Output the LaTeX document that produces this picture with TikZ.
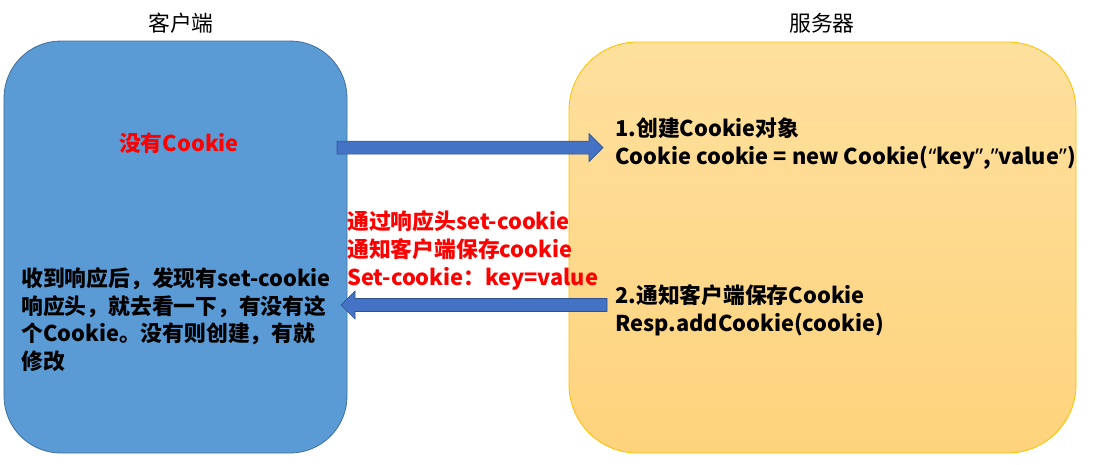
\documentclass[tikz,border=0pt]{standalone}
\usepackage{fontspec}
\setmainfont{Noto Sans CJK SC}
\newfontfamily\quotefont{Noto Sans}
\usetikzlibrary{calc}

\definecolor{clientblue}{HTML}{5B9BD5}
\definecolor{clientedge}{HTML}{41719C}
\definecolor{servertop}{HTML}{FEE09E}
\definecolor{serverbottom}{HTML}{FED37C}
\definecolor{serveredge}{HTML}{FFC000}
\definecolor{arrowblue}{HTML}{4472C4}
\definecolor{arrowedge}{HTML}{2F528F}
\definecolor{cookiered}{HTML}{FF0000}

\tikzset{
  clientbox/.style={rectangle, rounded corners=1.425cm, fill=clientblue, draw=clientedge, line width=.6pt},
  serverbox/.style={rectangle, rounded corners=1.71cm, top color=servertop, bottom color=serverbottom, draw=serveredge, line width=.6pt},
  titletext/.style={inner sep=0, font=\fontsize{15.5pt}{18pt}\selectfont},
  msgtext/.style={inner sep=0, align=left, font=\bfseries\fontsize{15.5pt}{19.9pt}\selectfont},
  blockarrow/.style={fill=arrowblue, draw=arrowedge, line width=.5pt, line join=miter}
}

\begin{document}
\begin{tikzpicture}
\useasboundingbox (0,0) rectangle (27.95cm,-11.6cm);

\node (client) at(4.3875cm,-6.175cm) [clientbox, minimum width=8.575cm, minimum height=10.3cm]{};
\node (server) at(20.5625cm,-6.1875cm) [serverbox, minimum width=12.675cm, minimum height=10.275cm]{};

\node (client title) at(4.525cm,-.575cm) [titletext]{客户端};
\node (server title) at(20.55cm,-.575cm) [titletext]{服务器};

\node (no cookie) at(4.475cm,-3.575cm) [msgtext, text=cookiered]{没有Cookie};
\node (create) at(15.375cm,-3.6cm) [msgtext, anchor=west]{1.创建Cookie对象\\Cookie cookie = new Cookie({\quotefont“}key{\quotefont”},{\quotefont”}value{\quotefont”})};
\node (notify) at(15.375cm,-7.76cm) [msgtext, anchor=west]{2.通知客户端保存Cookie\\Resp.addCookie(cookie)};
\node (header) at(8.675cm,-6.25cm) [msgtext, anchor=west, text=cookiered]{通过响应头set-cookie\\通知客户端保存cookie\\Set-cookie：key=value};
\node (receive) at(.525cm,-7.99cm) [msgtext, anchor=west]{收到响应后，发现有set-cookie\\响应头，就去看一下，有没有这\\个Cookie。没有则创建，有就\\修改};

%-----------------------------------------------------
\coordinate (req tail) at(8.425cm,-3.69cm);
\coordinate (req tip) at(15.075cm,-3.69cm);
\draw [blockarrow] ($(req tail)+(0,.1625cm)$) -- ($(req tip)+(-.35cm,.1625cm)$) -- ($(req tip)+(-.35cm,.35cm)$) -- (req tip) -- ($(req tip)+(-.35cm,-.35cm)$) -- ($(req tip)+(-.35cm,-.1625cm)$) -- ($(req tail)+(0,-.1625cm)$) -- cycle;

\coordinate (resp tail) at(15.175cm,-7.625cm);
\coordinate (resp tip) at(8.525cm,-7.625cm);
\draw [blockarrow] ($(resp tail)+(0,.1625cm)$) -- ($(resp tip)+(.35cm,.1625cm)$) -- ($(resp tip)+(.35cm,.35cm)$) -- (resp tip) -- ($(resp tip)+(.35cm,-.35cm)$) -- ($(resp tip)+(.35cm,-.1625cm)$) -- ($(resp tail)+(0,-.1625cm)$) -- cycle;

\end{tikzpicture}
\end{document}
